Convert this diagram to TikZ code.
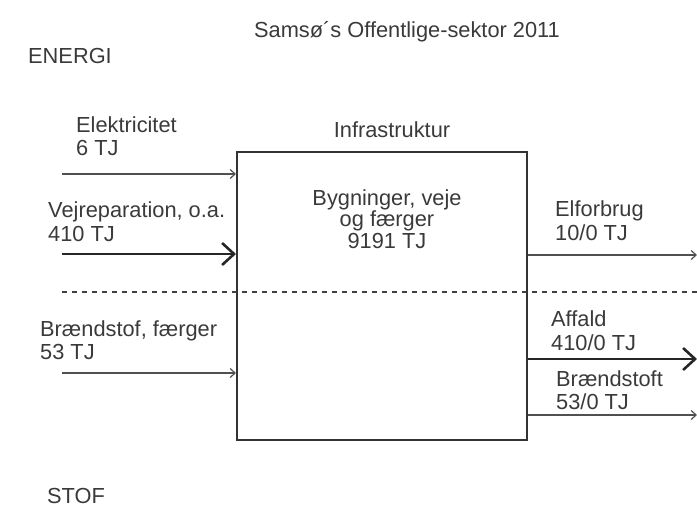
\documentclass[tikz,border=0pt]{standalone}
\usepackage{fontspec}
\setmainfont{Liberation Sans}
\usetikzlibrary{arrows.meta}
\definecolor{txt}{HTML}{3A3A3A}
\definecolor{ln}{HTML}{505050}
\tikzset{
  lbl/.style={font=\fontsize{21.8}{23.5}\selectfont, text=txt, inner sep=0pt, align=left, anchor=west},
  ctr/.style={font=\fontsize{21.8}{21.5}\selectfont, text=txt, inner sep=0pt, align=center},
  thinarr/.style={draw=ln, line width=1.2pt, -{Straight Barb[length=5pt,width=9pt]}},
  thickarr/.style={draw=black!85, line width=2.6pt, -{Straight Barb[length=12pt,width=22pt,line width=2.6pt]}},
  boxst/.style={draw=black!80, line width=2pt, minimum width=290pt, minimum height=288pt, inner sep=0pt},
  divider/.style={draw=black!75, line width=2pt, dash pattern=on 4.5pt off 5.5pt}
}
\begin{document}
\begin{tikzpicture}[x=1pt,y=-1pt]
\useasboundingbox (0,0) rectangle (697,507);
\node[boxst] (box) at (382,296) {};
\node[ctr] (title) at (407,32) {Samsø´s Offentlige-sektor 2011};
\node[lbl] (energi) at (28,56) {ENERGI};
\node[lbl] (stof) at (47,496) {STOF};
\node[ctr] (infra) at (392,130) {Infrastruktur};
\node[ctr] (inner) at (387,219) {Bygninger, veje\\og færger\\9191 TJ};
% dotted divider
\coordinate (dl) at (62,292);
\coordinate (dr) at (697,292);
\draw[divider] (dl) -- (dr);
% inputs
\coordinate (e0) at (62,174);
\coordinate (v0) at (62,254);
\coordinate (b0) at (62,373);
\draw[thinarr] (e0) -- (e0 -| box.west);
\draw[thickarr] (v0) -- (v0 -| box.west);
\draw[thinarr] (b0) -- (b0 -| box.west);
\node[lbl] (el) at (76,136) {Elektricitet\\6 TJ};
\node[lbl] (vej) at (48,221.5) {Vejreparation, o.a.\\410 TJ};
\node[lbl] (bra) at (40,340) {Brændstof, færger\\53 TJ};
% outputs
\coordinate (o1) at (697,255);
\coordinate (o2) at (697,359);
\coordinate (o3) at (697,415);
\draw[thinarr] (o1 -| box.east) -- (o1);
\draw[thickarr] (o2 -| box.east) -- (o2);
\draw[thinarr] (o3 -| box.east) -- (o3);
\node[lbl] (elf) at (555,220.5) {Elforbrug\\10/0 TJ};
\node[lbl] (aff) at (551,330.5) {Affald\\410/0 TJ};
\node[lbl] (brt) at (556,390) {Brændstoft\\53/0 TJ};
\end{tikzpicture}
\end{document}
